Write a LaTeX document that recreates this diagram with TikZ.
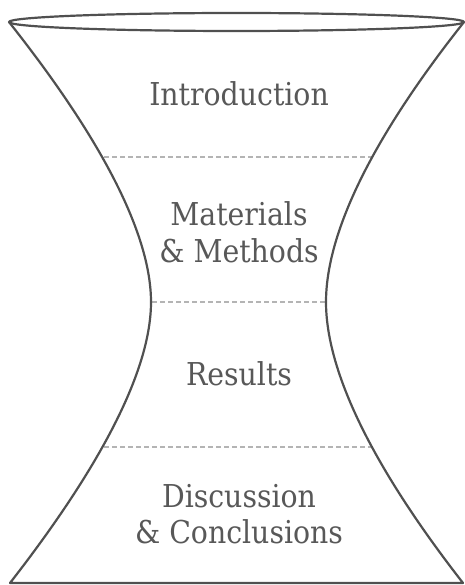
\documentclass[tikz,border=0pt]{standalone}
\usepackage{fontspec}
\setmainfont{DejaVu Serif Condensed}
\definecolor{linecol}{HTML}{505050}
\definecolor{dashcol}{HTML}{B4B4B4}
\definecolor{textcol}{HTML}{585858}
\begin{document}
\begin{tikzpicture}[x=1pt,y=-1pt,
  outline/.style={draw=linecol, line width=2.2pt, line join=round},
  divider/.style={draw=dashcol, line width=1.1pt, dash pattern=on 5pt off 3pt},
  lbl/.style={text=textcol, font=\fontsize{31.5}{37}\selectfont, anchor=base, inner sep=0pt}]
\useasboundingbox (0,0) rectangle (464,585);
% dividers clipped to the hourglass
\begin{scope}
  \clip (9,22) .. controls (112,152) and (151,242) .. (151,302)
        .. controls (151,362) and (112,452) .. (10,583)
        -- (463,583)
        .. controls (361,452) and (326,362) .. (326,302)
        .. controls (326,242) and (361,152) .. (464,22) -- cycle;
  \draw[divider] (0,157) -- (464,157);
  \draw[divider] (0,302) -- (464,302);
  \draw[divider] (0,447) -- (464,447);
\end{scope}
% outline
\draw[outline] (9,22) .. controls (112,152) and (151,242) .. (151,302)
        .. controls (151,362) and (112,452) .. (10,583)
        -- (463,583)
        .. controls (361,452) and (326,362) .. (326,302)
        .. controls (326,242) and (361,152) .. (464,22);
\draw[outline] (236.5,22) ellipse [x radius=227.5, y radius=9];
% labels
\node[lbl] (intro) at (239,106) {Introduction};
\node[lbl] (mat1) at (239,225) {Materials};
\node[lbl] (mat2) at (239,262) {\& Methods};
\node[lbl] (res) at (239,385) {Results};
\node[lbl] (disc1) at (239,507) {Discussion};
\node[lbl] (disc2) at (239,543) {\& Conclusions};
\end{tikzpicture}
\end{document}
